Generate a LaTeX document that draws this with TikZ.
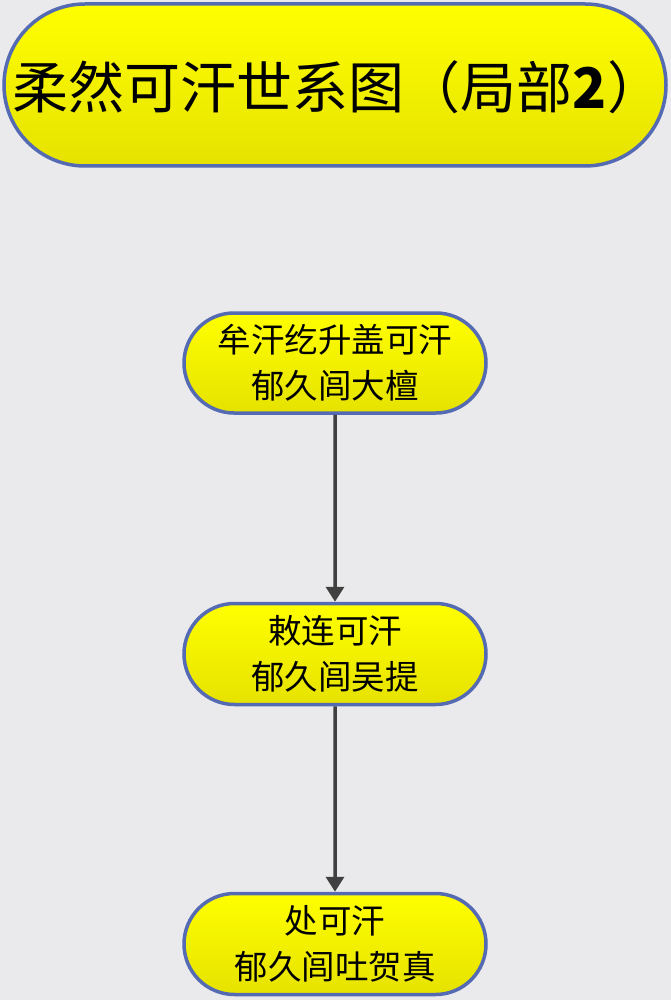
\documentclass[tikz,border=0pt]{standalone}
\usepackage{fontspec}
\newfontfamily\cjk{Noto Sans CJK SC}
\usetikzlibrary{arrows.meta,shapes.misc}
\definecolor{bg}{RGB}{234,234,236}
\definecolor{edge}{RGB}{84,106,178}
\definecolor{ytop}{RGB}{255,255,0}
\definecolor{ybot}{RGB}{230,226,0}
\definecolor{arr}{RGB}{64,64,64}
\tikzset{
  pillline/.style={draw=edge, line width=3.5pt, top color=ytop, bottom color=ybot},
  pill/.style={rounded rectangle, pillline, align=center, inner sep=0pt,
    font=\cjk\fontsize{33.5}{46}\selectfont},
  titletext/.style={inner sep=0pt, font=\cjk\fontsize{56}{64}\selectfont},
  link/.style={draw=arr, line width=3.5pt, -{Triangle[length=15pt,width=18pt]}}
}
\begin{document}
\begin{tikzpicture}[x=1pt,y=1pt]
\fill[bg] (0,0) rectangle (671,-1000);
\useasboundingbox (0,0) rectangle (671,-1000);
\draw[pillline, rounded corners=81pt] (4,-4) rectangle (666,-166);
\node[titletext] (title) at (338,-87) {柔然可汗世系图（局部\textbf{2}）};
\node[pill, minimum width=302pt, minimum height=100pt] (a) at (335,-363) {牟汗纥升盖可汗\\郁久闾大檀};
\node[pill, minimum width=302pt, minimum height=101pt] (b) at (335,-654) {敕连可汗\\郁久闾吴提};
\node[pill, minimum width=302pt, minimum height=101pt] (c) at (335,-944) {处可汗\\郁久闾吐贺真};
\draw[link] (a) -- (b);
\draw[link] (b) -- (c);
\end{tikzpicture}
\end{document}
